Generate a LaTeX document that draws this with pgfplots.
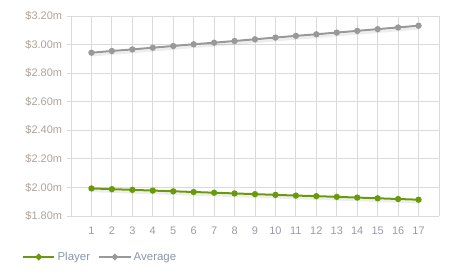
\documentclass[border=0pt]{standalone}
\usepackage{fontspec}
\setmainfont{Liberation Sans}
\usepackage{pgfplots}
\pgfplotsset{compat=1.18}
\definecolor{playergreen}{HTML}{6A9A0C}
\definecolor{avggray}{HTML}{999999}
\definecolor{gridc}{HTML}{DADADA}
\definecolor{ylab}{HTML}{ADA39B}
\definecolor{xlab}{HTML}{9A9AAC}
\definecolor{legtext}{HTML}{8A96A8}
\begin{document}
\begin{tikzpicture}
\begin{axis}[
  name=ax,
  scale only axis,
  width=368bp, height=200bp,
  xmin=0, xmax=18, ymin=1.8, ymax=3.2,
  xtick={1,...,17},
  ytick={1.8,2.0,2.2,2.4,2.6,2.8,3.0,3.2},
  extra x ticks={0,18},
  extra x tick labels={},
  grid=major,
  major grid style={gridc, line width=0.8bp},
  axis x line*=bottom,
  axis y line*=left,
  axis line style={gridc, line width=0.8bp},
  x axis line style={-},
  y axis line style={-},
  tick style={gridc, line width=0.8bp},
  major tick length=4bp,
  xtick style={draw=none},
  tick align=outside,
  /pgf/number format/assume math mode=true,
  yticklabel={\$\pgfmathprintnumber[fixed,fixed zerofill,precision=2]{\tick}m},
  yticklabel style={font=\fontsize{11}{13}\selectfont, text=ylab, xshift=-1.5bp},
  xticklabel style={font=\fontsize{11}{13}\selectfont, text=xlab, yshift=-3bp},
  legend columns=2,
  legend style={draw=none, fill=none, at={(-0.142,-0.205)}, anchor=west,
    font=\fontsize{11.5}{13}\selectfont, text=legtext,
    /tikz/every even column/.append style={column sep=6bp}},
  legend image code/.code={\draw[mark repeat=2,mark phase=2,#1, line width=2.5bp, mark size=1.8bp] plot coordinates {(0cm,0cm) (0.55cm,0cm) (1.1cm,0cm)};},
]
% shadows
\addplot[forget plot, black, opacity=0.07, line width=2.5bp, yshift=-2.5bp, xshift=1bp] coordinates {
(1,1.993)(2,1.988)(3,1.983)(4,1.978)(5,1.973)(6,1.968)(7,1.963)(8,1.958)(9,1.953)(10,1.948)(11,1.943)(12,1.939)(13,1.934)(14,1.929)(15,1.924)(16,1.919)(17,1.914)};
\addplot[forget plot, black, opacity=0.07, line width=2.5bp, yshift=-2.5bp, xshift=1bp] coordinates {
(1,2.943)(2,2.955)(3,2.966)(4,2.978)(5,2.990)(6,3.002)(7,3.013)(8,3.025)(9,3.037)(10,3.049)(11,3.061)(12,3.072)(13,3.084)(14,3.096)(15,3.108)(16,3.120)(17,3.132)};
\addplot[playergreen, line width=2bp, mark=*, mark size=2.1bp] coordinates {
(1,1.993)(2,1.988)(3,1.983)(4,1.978)(5,1.973)(6,1.968)(7,1.963)(8,1.958)(9,1.953)(10,1.948)(11,1.943)(12,1.939)(13,1.934)(14,1.929)(15,1.924)(16,1.919)(17,1.914)};
\addlegendentry{Player}
\addplot[avggray, line width=2bp, mark=*, mark size=2.1bp] coordinates {
(1,2.943)(2,2.955)(3,2.966)(4,2.978)(5,2.990)(6,3.002)(7,3.013)(8,3.025)(9,3.037)(10,3.049)(11,3.061)(12,3.072)(13,3.084)(14,3.096)(15,3.108)(16,3.120)(17,3.132)};
\addlegendentry{Average}
\end{axis}
\path[use as bounding box] ([xshift=-71bp,yshift=-63bp]ax.south west) rectangle ([xshift=15bp,yshift=16bp]ax.north east);
\end{tikzpicture}
\end{document}
